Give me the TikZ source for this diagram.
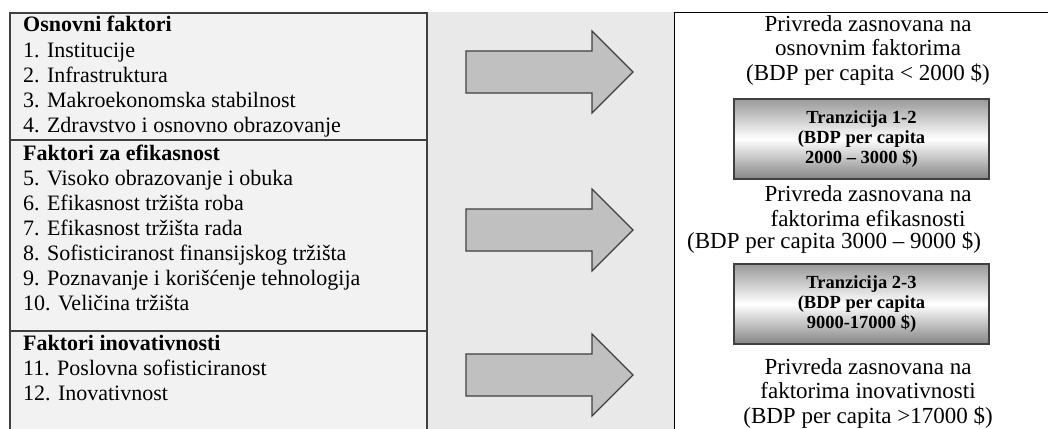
\documentclass[tikz,border=0pt]{standalone}
\usepackage{fontspec}
\setmainfont{Liberation Serif}
\definecolor{leftfill}{HTML}{F2F2F2}
\definecolor{bandfill}{HTML}{E9E9E9}
\definecolor{arrowfill}{HTML}{C0C0C0}
\definecolor{edgegray}{HTML}{404040}
\tikzset{
  factor/.style={anchor=base west, inner sep=0pt, font=\fontsize{22}{25}\selectfont},
  stage/.style={align=center, inner sep=0pt, font=\fontsize{23}{24.5}\selectfont},
  transbox/.style={draw=edgegray, line width=1.2pt, minimum width=255pt, minimum height=80pt,
    align=center, inner sep=0pt, top color=black!40, bottom color=black!48, middle color=white,
    font=\bfseries\fontsize{18.5}{20}\selectfont},
  bigarrow/.style={draw=edgegray, line width=1.2pt, fill=arrowfill}
}
\begin{document}
\begin{tikzpicture}[x=1pt, y=-1pt]
\useasboundingbox (0,0) rectangle (1048,428);
\clip (0,0) rectangle (1048,428);
% panels
\fill[bandfill] (427,12) rectangle (674,440);
\draw[edgegray, line width=1.3pt, fill=leftfill] (10,13) rectangle (427,440);
\draw[edgegray, line width=1.3pt] (10,140) -- (427,140);
\draw[edgegray, line width=1.3pt] (10,331) -- (427,331);
\draw[black, line width=1pt, fill=white] (674,13) rectangle (1070,440);
% factors
\node[factor] (h1) at (23,32) {\textbf{Osnovni faktori}};
\node[factor] (f1) at (23,57) {1. Institucije};
\node[factor] (f2) at (23,82) {2. Infrastruktura};
\node[factor] (f3) at (23,107) {3. Makroekonomska stabilnost};
\node[factor] (f4) at (23,132) {4. Zdravstvo i osnovno obrazovanje};
\node[factor] (h2) at (23,160) {\textbf{Faktori za efikasnost}};
\node[factor] (f5) at (23,185) {5. Visoko obrazovanje i obuka};
\node[factor] (f6) at (23,210) {6. Efikasnost tržišta roba};
\node[factor] (f7) at (23,235) {7. Efikasnost tržišta rada};
\node[factor] (f8) at (23,260) {8. Sofisticiranost finansijskog tržišta};
\node[factor] (f9) at (23,285) {9. Poznavanje i korišćenje tehnologija};
\node[factor] (f10) at (23,310) {10. Veličina tržišta};
\node[factor] (h3) at (23,350) {\textbf{Faktori inovativnosti}};
\node[factor] (f11) at (23,375) {11. Poslovna sofisticiranost};
\node[factor] (f12) at (23,400) {12. Inovativnost};
% arrows
\foreach \y in {72,230,375}
  \draw[bigarrow] (466,\y-21) -- (592,\y-21) -- (592,\y-41) -- (633,\y)
    -- (592,\y+41) -- (592,\y+21) -- (466,\y+21) -- cycle;
% stages
\node[stage] (s1) at (868,50) {Privreda zasnovana na\\osnovnim faktorima\\(BDP per capita < 2000 \$)};
\node[transbox] (t1) at (861.5,139) {Tranzicija 1-2\\(BDP per capita\\2000 -- 3000 \$)};
\node[stage] (s2) at (868,206) {Privreda zasnovana na\\faktorima efikasnosti};
\node[stage, anchor=west] (s2b) at (687,243) {(BDP per capita 3000 -- 9000 \$)};
\node[transbox] (t2) at (861.5,304) {Tranzicija 2-3\\(BDP per capita\\9000-17000 \$)};
\node[stage] (s3) at (868,393) {Privreda zasnovana na\\faktorima inovativnosti\\(BDP per capita >17000 \$)};
\end{tikzpicture}
\end{document}
